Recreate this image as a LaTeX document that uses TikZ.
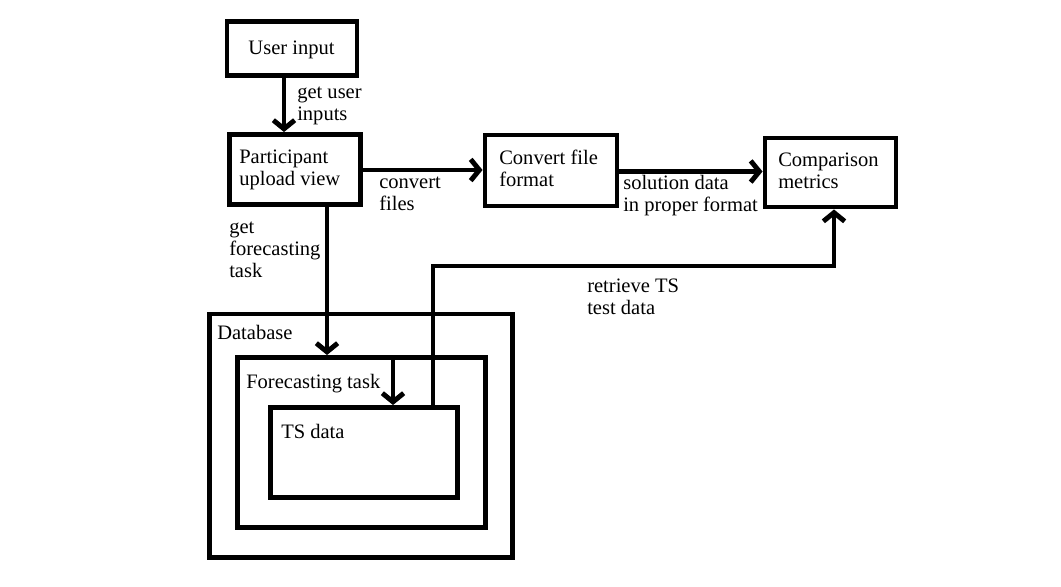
\documentclass[tikz,border=0pt]{standalone}
\usepackage{fontspec}
\setmainfont{Liberation Serif}
\usetikzlibrary{arrows.meta,fit}
\begin{document}
\begin{tikzpicture}[x=0.75pt,y=-0.75pt,
  box/.style={draw=black,line width=3.7pt,inner sep=0pt,rectangle},
  txt/.style={anchor=base west,inner sep=0pt,align=left,font=\fontsize{15.4pt}{16.5pt}\selectfont},
  conn/.style={line width=3.7pt,-{Straight Barb[length=6.5pt,width=16pt,line width=3.7pt]}}]
\useasboundingbox[fill=white] (0,0) rectangle (1061,586);
% boxes
\node[box,fit={(227,21.5)(357,75.5)}] (ui) {};
\node[box,fit={(229.5,134.5)(360.5,204.5)}] (part) {};
\node[box,fit={(485,135)(617,206)}] (conv) {};
\node[box,fit={(765,138)(896,207)}] (comp) {};
\node[box,fit={(209.5,314)(512.5,557.5)}] (db) {};
\node[box,fit={(237.5,357.5)(485.5,527.5)}] (ft) {};
\node[box,fit={(270.5,407.5)(457.5,497.5)}] (ts) {};
% box texts (base = baseline of last line)
\node[txt,anchor=base] (tui) at (291.5,54) {User input};
\node[txt] (tpart) at (239,185) {Participant\\upload view};
\node[txt] (tconv) at (499,186) {Convert file\\format};
\node[txt] (tcomp) at (778,188) {Comparison\\metrics};
\node[txt] (tdb) at (217,339) {Database};
\node[txt] (tft) at (246,388) {Forecasting task};
\node[txt] (tts) at (281,438) {TS data};
% connector labels
\node[txt] (l1) at (297,120) {get user\\inputs};
\node[txt] (l2) at (379,210) {convert\\files};
\node[txt] (l3) at (623,211) {solution data\\in proper format};
\node[txt] (l4) at (229,277) {get\\forecasting\\task};
\node[txt] (l5) at (587,314) {retrieve TS\\test data};
% helper coordinates
\coordinate (xa) at (284,0);
\coordinate (xb) at (327,0);
\coordinate (xc) at (393,0);
\coordinate (xd) at (433,0);
\coordinate (xe) at (834,0);
\coordinate (ya) at (0,170);
\coordinate (yb) at (0,171.5);
\coordinate (yc) at (0,266);
% connectors
\draw[conn] (ui.south -| xa) -- (part.north -| xa);
\draw[conn] (part.east |- ya) -- (conv.west |- ya);
\draw[conn] (conv.east |- yb) -- (comp.west |- yb);
\draw[conn] (part.south -| xb) -- (ft.north -| xb);
\draw[conn] (ft.north -| xc) -- (ts.north -| xc);
\draw[conn] (ts.north -| xd) -- (xd |- yc) -- (xe |- yc) -- (comp.south -| xe);
\end{tikzpicture}
\end{document}
